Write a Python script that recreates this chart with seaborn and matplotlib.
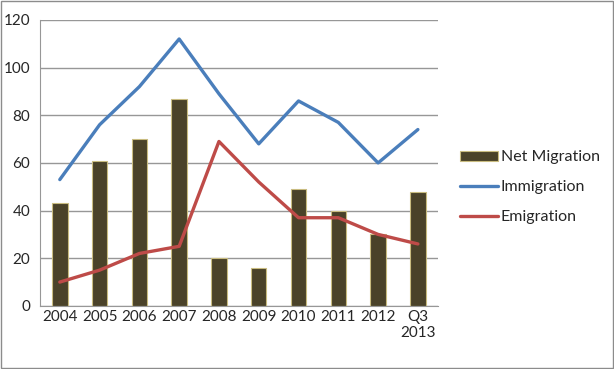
import numpy as np
import pandas as pd
import seaborn as sns
import matplotlib.pyplot as plt
from matplotlib.patches import Rectangle

years = ["2004", "2005", "2006", "2007", "2008", "2009", "2010", "2011", "2012", "Q3\n2013"]
net_migration = [43, 61, 70, 87, 20, 16, 49, 40, 30, 48]
immigration = [53, 76, 92, 112, 89, 68, 86, 77, 60, 74]
emigration = [10, 15, 22, 25, 69, 52, 37, 37, 30, 26]

df = pd.DataFrame({
    "year": years,
    "pos": np.arange(len(years)),
    "Net Migration": net_migration,
    "Immigration": immigration,
    "Emigration": emigration,
})

sns.set_style("white")
plt.rcParams['font.family'] = ['Lato', 'DejaVu Sans']

fig = plt.figure(figsize=(6.14, 3.69), dpi=100)
ax = fig.add_axes([0.065, 0.171, 0.648, 0.775])

sns.barplot(data=df, x="pos", y="Net Migration", color="#4a4229", width=0.39,
            edgecolor="#c9bc80", linewidth=0.8, saturation=1,
            label="Net Migration", ax=ax, native_scale=True)
sns.lineplot(data=df, x="pos", y="Immigration", color="#4a7ebb", linewidth=2.4,
             label="Immigration", ax=ax)
sns.lineplot(data=df, x="pos", y="Emigration", color="#be4b48", linewidth=2.4,
             label="Emigration", ax=ax)

ax.set_xlim(-0.5, len(years) - 0.5)
ax.set_ylim(0, 120)
ax.set_yticks(range(0, 121, 20))
ax.yaxis.grid(True, color="#979797", linewidth=1)
ax.set_axisbelow(True)

# ticks on category boundaries, labels centred
ax.set_xticks(np.arange(-0.5, len(years), 1))
ax.set_xticklabels([])
ax.set_xticks(np.arange(len(years)), minor=True)
ax.set_xticklabels(years, minor=True)
ax.tick_params(axis="x", which="major", length=5, color="#979797", direction="out")
ax.tick_params(axis="x", which="minor", length=0, labelsize=11, pad=3)
ax.tick_params(axis="y", length=5, color="#979797", direction="out", labelsize=11, pad=2)
ax.set_xlabel("")
ax.set_ylabel("")

for side in ["top", "right"]:
    ax.spines[side].set_visible(False)
for side in ["left", "bottom"]:
    ax.spines[side].set_color("#979797")

handles, labels = ax.get_legend_handles_labels()
order = [labels.index(n) for n in ["Net Migration", "Immigration", "Emigration"]]
ax.legend([handles[i] for i in order], [labels[i] for i in order],
          loc="center left", bbox_to_anchor=(1.02, 0.415), frameon=False,
          fontsize=11.5, handlelength=2.4, handleheight=0.6, handletextpad=0.15,
          labelspacing=1.0)

fig.patches.append(Rectangle((0.001, 0.002), 0.997, 0.995, transform=fig.transFigure,
                             fill=False, edgecolor="#8c8c8c", linewidth=1))

plt.savefig("out.png", dpi=100)
